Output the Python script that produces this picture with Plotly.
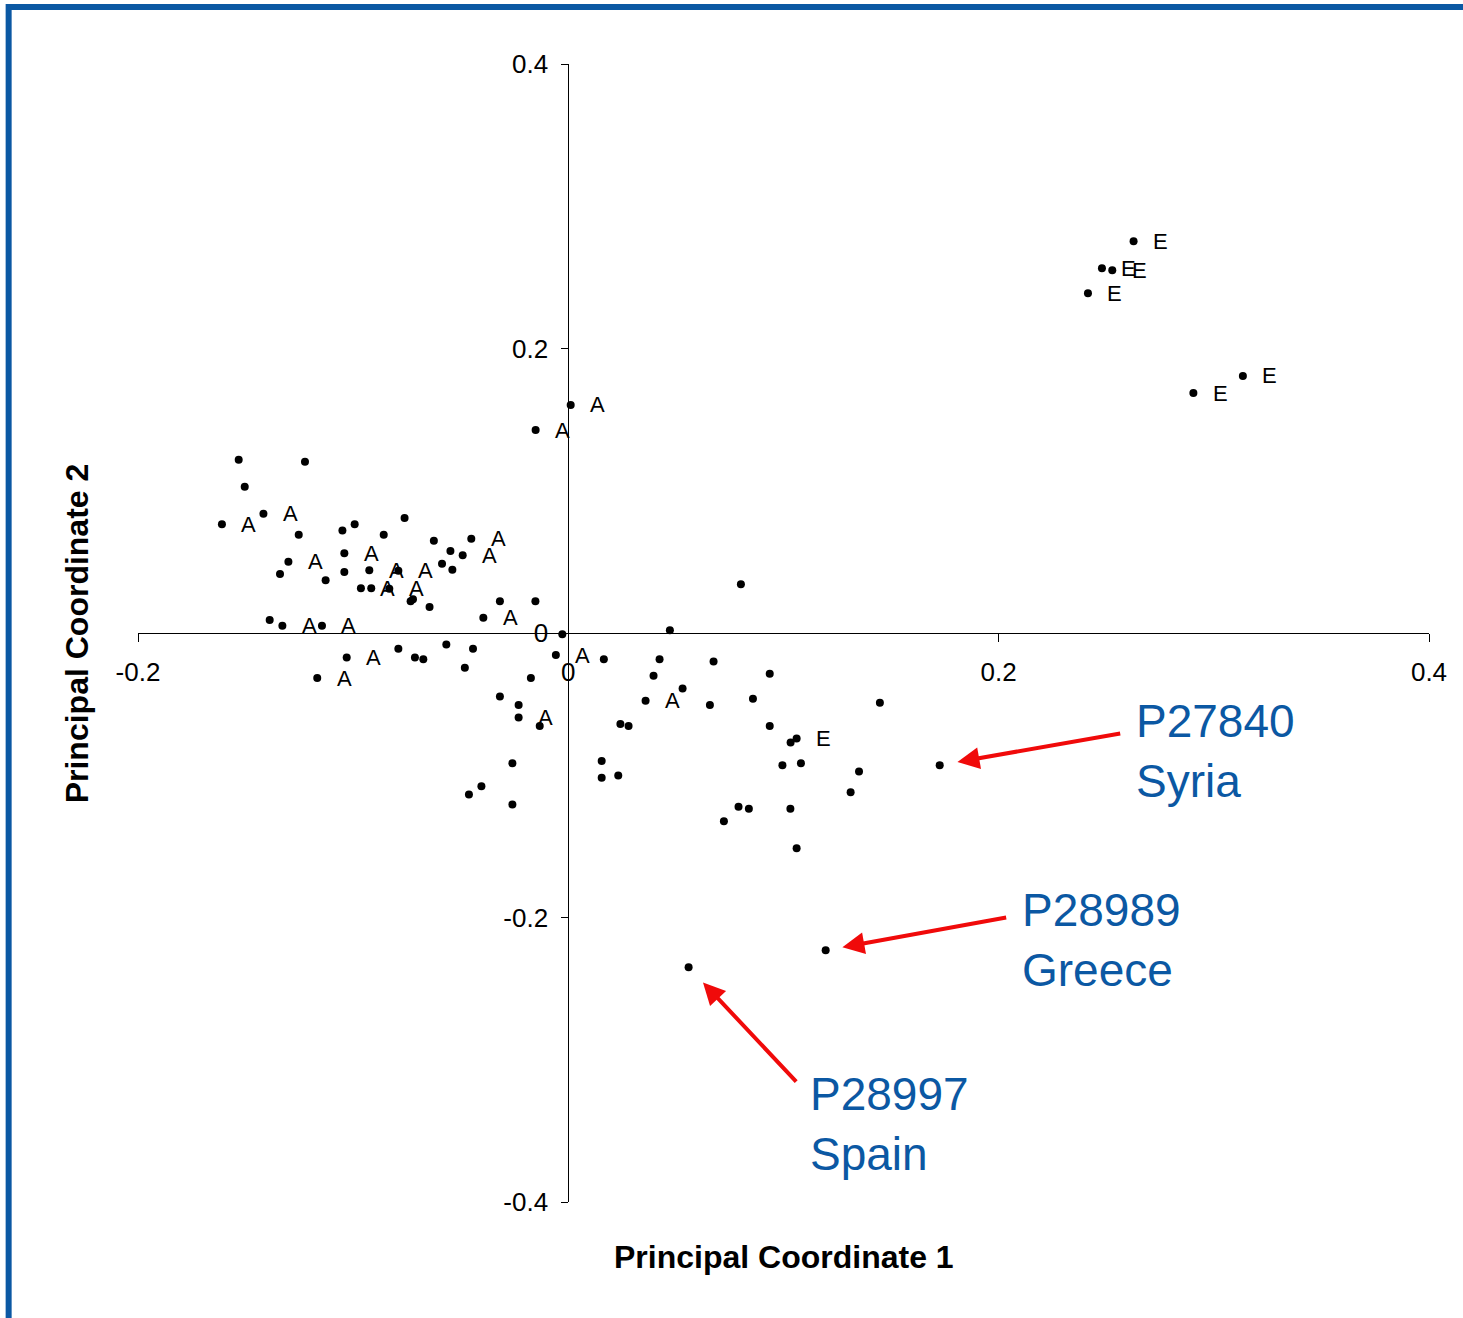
import plotly.graph_objects as go

# ---- data ----
pc1 = [-0.1532, -0.1224, -0.1504, -0.1610, -0.1417, -0.1253, -0.1050, -0.0993, -0.0761, -0.0858,
       -0.1301, -0.1340, -0.1041, -0.1041, -0.1128, -0.0925, -0.0790, -0.0964, -0.0916, -0.0832,
       -0.0733, -0.0722, -0.0645, -0.0625, -0.0587, -0.0548, -0.0539, -0.0491, -0.0451, -0.0318,
       -0.0395, -0.0153, -0.0028, -0.1388, -0.1329, -0.1145, -0.1030, -0.1167, -0.0790, -0.0713,
       -0.0674, -0.0567, -0.0443, -0.0481, -0.0058, -0.0174, -0.0318, -0.0152, 0.0011, 0.0165,
       0.0424, 0.0472, 0.0802, 0.0675, 0.0396, 0.0531, 0.0359, 0.0658, 0.0936, 0.0858,
       0.0936, 0.1448, -0.0231, -0.0231, -0.0133, 0.0242, 0.0280, 0.1033, 0.1061, 0.0995,
       0.1081, 0.1351, 0.1312, 0.0791, 0.0839, 0.1032, 0.0723, 0.1061, -0.0260, -0.0404,
       -0.0462, -0.0260, 0.0155, 0.0155, 0.0232, 0.1726, 0.1196, 0.0559,
       0.2627, 0.2480, 0.2528, 0.2415, 0.3135, 0.2905]
pc2 = [0.1218, 0.1204, 0.1028, 0.0764, 0.0838, 0.0691, 0.0721, 0.0764, 0.0808, 0.0691,
       0.0501, 0.0414, 0.0560, 0.0428, 0.0370, 0.0442, 0.0437, 0.0314, 0.0314, 0.0311,
       0.0224, 0.0238, 0.0182, 0.0648, 0.0487, 0.0576, 0.0444, 0.0546, 0.0662, 0.0224,
       0.0107, 0.0224, -0.0008, 0.0091, 0.0051, 0.0051, -0.0172, -0.0317, -0.0111, -0.0172,
       -0.0184, -0.0080, -0.0111, -0.0245, -0.0155, -0.0317, -0.0446, 0.1427, 0.1603, -0.0184,
       -0.0184, 0.0020, 0.0342, -0.0200, -0.0301, -0.0390, -0.0477, -0.0507, -0.0287, -0.0463,
       -0.0653, -0.0491, -0.0507, -0.0594, -0.0653, -0.0639, -0.0653, -0.0769, -0.0741, -0.0929,
       -0.0915, -0.0973, -0.1119, -0.1222, -0.1236, -0.1236, -0.1323, -0.1513, -0.0915, -0.1077,
       -0.1135, -0.1205, -0.0899, -0.1018, -0.1001, -0.0929, -0.2230, -0.2349,
       0.2754, 0.2564, 0.2550, 0.2388, 0.1807, 0.1687]
group = ["", "", "", "A", "A", "", "", "", "", "",
         "A", "", "A", "", "", "A", "A", "A", "", "A",
         "", "", "", "", "", "", "", "A", "A", "",
         "A", "", "", "", "A", "A", "A", "A", "", "",
         "", "", "", "", "A", "", "", "A", "A", "",
         "", "", "", "", "", "", "A", "", "", "",
         "", "", "", "A", "", "", "", "", "E", "",
         "", "", "", "", "", "", "", "", "", "",
         "", "", "", "", "", "", "", "",
         "E", "E", "E", "E", "E", "E"]

# highlighted accessions: (index into the arrays, name, country)
highlight_idx = [85, 86, 87]
highlight_id = ["P27840", "P28989", "P28997"]
highlight_country = ["Syria", "Greece", "Spain"]

x_ticks = [-0.2, 0, 0.2, 0.4]
x_ticktext = ["-0.2", "0", "0.2", "0.4"]
y_ticks = [-0.4, -0.2, 0, 0.2, 0.4]
y_ticktext = ["-0.4", "-0.2", "0", "0.2", "0.4"]

x_title = "Principal Coordinate 1"
y_title = "Principal Coordinate 2"

# ---- styling ----
FONT = "Liberation Sans, Arial, sans-serif"
BLUE = "#0b58a3"
RED = "#f00a0a"

fig = go.Figure()
fig.add_trace(go.Scatter(
    x=pc1, y=pc2, mode="markers",
    marker=dict(size=8, color="black"),
    hoverinfo="x+y", showlegend=False,
))

annotations = []
for xv, yv, g in zip(pc1, pc2, group):
    if g:
        annotations.append(dict(
            x=xv, y=yv, xref="x", yref="y", text=g, showarrow=False,
            xshift=27, xanchor="center", yanchor="middle",
            font=dict(family=FONT, size=22, color="black"),
        ))

# arrows and callout text (offsets in pixels)
arrow_ax = [182, 182, 109]
arrow_ay = [-32, -33, 116]
arrow_standoff = [18, 17, 21]
text_xshift = [194, 194, 119]
text_yshift = [14, 10, -157]
for k, i in enumerate(highlight_idx):
    annotations.append(dict(
        x=pc1[i], y=pc2[i], xref="x", yref="y", text="",
        showarrow=True, ax=arrow_ax[k], ay=arrow_ay[k],
        arrowhead=2, arrowsize=1.1, arrowwidth=4, arrowcolor=RED,
        standoff=arrow_standoff[k],
    ))
    annotations.append(dict(
        x=pc1[i], y=pc2[i], xref="x", yref="y",
        text=f"{highlight_id[k]}<br>{highlight_country[k]}",
        showarrow=False, xshift=text_xshift[k], yshift=text_yshift[k],
        xanchor="left", yanchor="middle", align="left",
        font=dict(family=FONT, size=46, color=BLUE),
    ))

annotations.append(dict(
    x=0.5, y=-0.048, xref="paper", yref="paper", text=f"<b>{x_title}</b>",
    showarrow=False, xanchor="center", yanchor="middle",
    font=dict(family=FONT, size=32, color="black"),
))
annotations.append(dict(
    x=-0.047, y=0.5, xref="paper", yref="paper", text=f"<b>{y_title}</b>",
    showarrow=False, xanchor="center", yanchor="middle", textangle=-90,
    font=dict(family=FONT, size=32, color="black"),
))

fig.update_layout(
    width=1463, height=1318,
    margin=dict(l=138, r=34, t=64, b=116),
    paper_bgcolor="white", plot_bgcolor="white",
    xaxis=dict(
        range=[-0.2, 0.4], tickvals=x_ticks, ticktext=x_ticktext,
        showgrid=False, zeroline=False, showline=True, linecolor="black", linewidth=1,
        ticks="outside", ticklen=8, tickcolor="black", tickwidth=1,
        anchor="free", position=0.5, ticklabelstandoff=8,
        tickfont=dict(family=FONT, size=26, color="black"),
    ),
    yaxis=dict(
        range=[-0.4, 0.4], tickvals=y_ticks, ticktext=y_ticktext,
        showgrid=False, zeroline=False, showline=True, linecolor="black", linewidth=1,
        ticks="outside", ticklen=7, tickcolor="black", tickwidth=1,
        anchor="free", position=1/3, ticklabelstandoff=8,
        tickfont=dict(family=FONT, size=26, color="black"),
    ),
    annotations=annotations,
    shapes=[dict(
        type="rect", xref="paper", yref="paper",
        x0=-0.1002, x1=1.2, y0=-0.3, y1=1.0501,
        line=dict(color=BLUE, width=6), fillcolor="rgba(0,0,0,0)", layer="above",
    )],
)

fig.write_html("out.html")
